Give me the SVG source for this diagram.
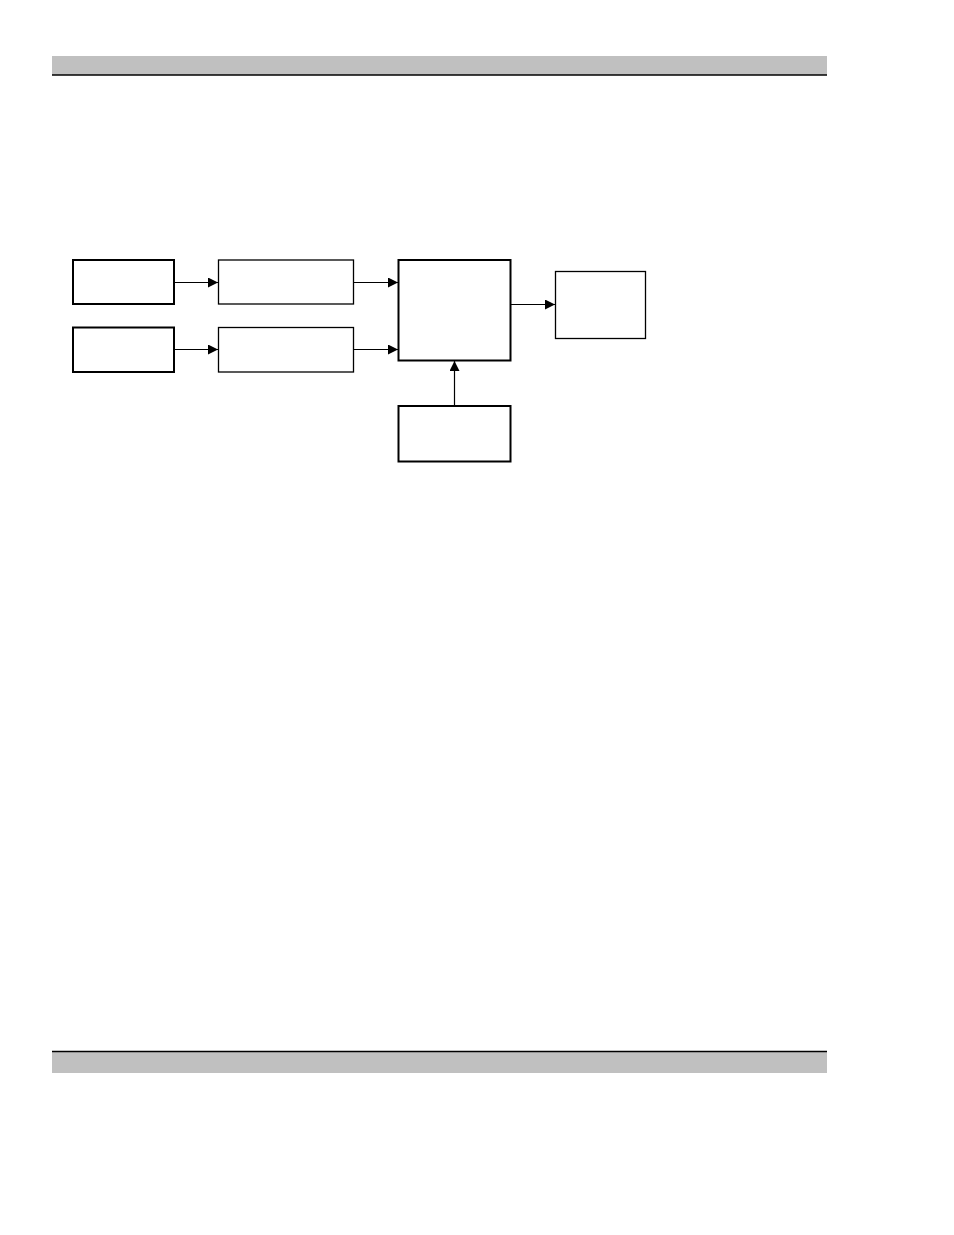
<svg xmlns="http://www.w3.org/2000/svg" width="954" height="1235" viewBox="0 0 954 1235">
<style>
.box{fill:#fff;stroke:#000}
.thick{stroke-width:2}
.thin{stroke-width:1.3}
.conn{stroke:#000;stroke-width:1.2;fill:none;marker-end:url(#arr)}
.bar{fill:#c0c0c0}
</style>
<defs>
<marker id="arr" viewBox="0 0 10 10" refX="10" refY="5" markerWidth="10" markerHeight="10" markerUnits="userSpaceOnUse" orient="auto">
<path d="M0,0 L10,5 L0,10 z" fill="#000"/>
</marker>
</defs>
<rect width="954" height="1235" fill="#fff"/>
<g id="header">
<rect class="bar" x="52" y="56" width="775" height="19"/>
<line x1="52" y1="75" x2="827" y2="75" stroke="#000" stroke-width="1.3"/>
</g>
<g id="footer">
<rect class="bar" x="52" y="1051" width="775" height="22"/>
<line x1="52" y1="1051.5" x2="827" y2="1051.5" stroke="#000" stroke-width="1.3"/>
</g>
<g id="n1"><rect class="box thick" x="73" y="260" width="101" height="44"/></g>
<g id="n2"><rect class="box thin" x="218.5" y="260" width="135" height="44"/></g>
<g id="n3"><rect class="box thick" x="73" y="327.5" width="101" height="44.5"/></g>
<g id="n4"><rect class="box thin" x="218.5" y="327.5" width="135" height="44.5"/></g>
<g id="n5"><rect class="box thick" x="398.5" y="260" width="112" height="100.5"/></g>
<g id="n6"><rect class="box thin" x="555.5" y="271.5" width="90" height="67"/></g>
<g id="n7"><rect class="box thick" x="398.5" y="406" width="112" height="55.5"/></g>
<g id="connectors">
<line class="conn" x1="174" y1="282.5" x2="218" y2="282.5"/>
<line class="conn" x1="174" y1="349.5" x2="218" y2="349.5"/>
<line class="conn" x1="353.5" y1="282.5" x2="398" y2="282.5"/>
<line class="conn" x1="353.5" y1="349.5" x2="398" y2="349.5"/>
<line class="conn" x1="510.5" y1="304.5" x2="555" y2="304.5"/>
<line class="conn" x1="454.5" y1="405" x2="454.5" y2="361"/>
</g>
</svg>
